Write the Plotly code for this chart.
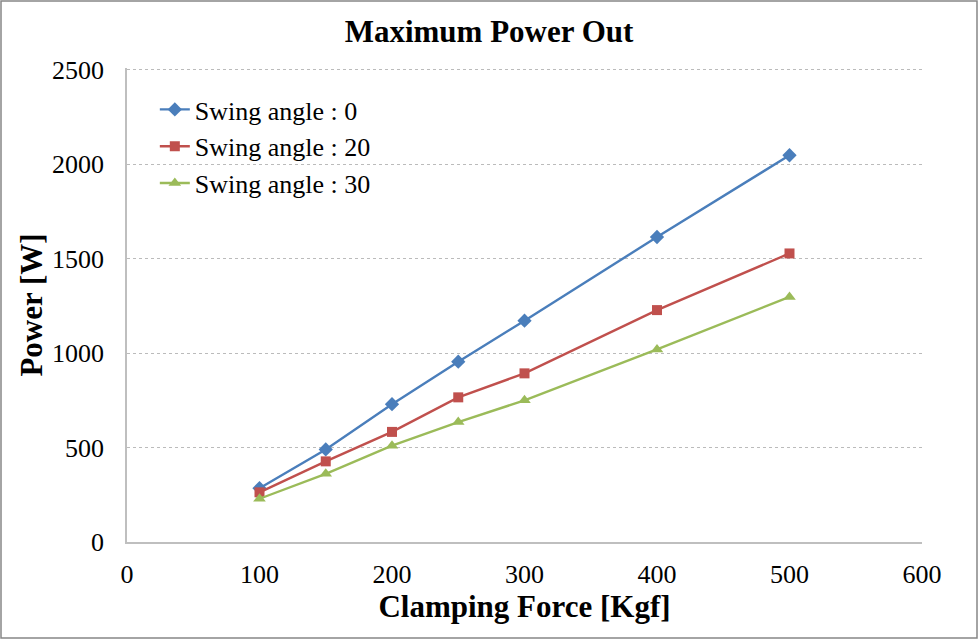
import plotly.graph_objects as go

# Clamping force [Kgf]
force = [100, 150, 200, 250, 300, 400, 500]

# Max power [W] for each swing angle
power_0 = [285, 490, 730, 955, 1172, 1615, 2048]
power_20 = [263, 427, 583, 766, 893, 1228, 1528]
power_30 = [229, 361, 510, 635, 750, 1020, 1298]

series = [
    ("Swing angle : 0", power_0, "#4A7EBB", "diamond", 11),
    ("Swing angle : 20", power_20, "#C0504D", "square", 10),
    ("Swing angle : 30", power_30, "#9BBB59", "triangle-up", 11),
]

font_family = "Times New Roman, Liberation Serif, serif"

W, H = 978, 639
ml, mr, mt, mb = 127, 56, 68, 97
pw, ph = W - ml - mr, H - mt - mb

fig = go.Figure()
for name, vals, color, sym, size in series:
    fig.add_scatter(x=force, y=vals, mode="lines+markers", name=name,
                    line=dict(color=color, width=2.4),
                    marker=dict(symbol=sym, size=size, color=color))

fig.update_layout(
    width=W, height=H,
    margin=dict(l=ml, r=mr, t=mt, b=mb),
    paper_bgcolor="white", plot_bgcolor="white",
    font=dict(family=font_family, size=26, color="black"),
    title=dict(text="<b>Maximum Power Out</b>", x=0.5, xref="container",
               xanchor="center", y=1 - 31 / H, yanchor="middle",
               font=dict(size=31)),
    legend=dict(x=0.035, y=0.962, xanchor="left", yanchor="top",
                bgcolor="rgba(0,0,0,0)", font=dict(size=26),
                tracegroupgap=0, itemwidth=30),
    xaxis=dict(range=[0, 600], dtick=100, showgrid=False, zeroline=False,
               showline=True, linecolor="#BFBFBF", linewidth=1.5,
               ticks="", ticklabelstandoff=8,
               title=dict(text="<b>Clamping Force [Kgf]</b>", standoff=6)),
    yaxis=dict(range=[0, 2510], tick0=0, dtick=500, showgrid=True,
               gridcolor="#BBBBBB", griddash="dot", gridwidth=1,
               zeroline=False, showline=True, linecolor="#BFBFBF",
               linewidth=1.5, ticks="", ticklabelstandoff=16,
               title=dict(text="<b>Power [W]</b>", standoff=0)),
    shapes=[dict(type="rect", xref="paper", yref="paper",
                 x0=(-ml + 1) / pw, x1=(W - ml - 1) / pw,
                 y0=(-mb + 1) / ph, y1=(H - mb - 1) / ph,
                 line=dict(color="#868686", width=1.5))],
)

fig.write_html("out.html", config={"displayModeBar": False},
               post_script="document.body.style.margin='0';")
